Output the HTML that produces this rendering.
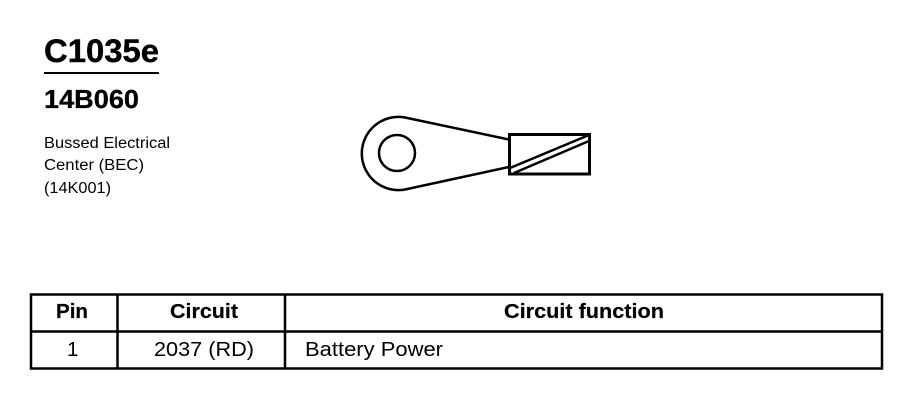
<!DOCTYPE html>
<html>
<head>
<meta charset="utf-8">
<style>
html,body{margin:0;padding:0;background:#fff;width:918px;height:416px;overflow:hidden}
svg{display:block}
text{font-family:"Liberation Sans",sans-serif;fill:#000}
</style>
</head>
<body>
<svg width="918" height="416" viewBox="0 0 918 416" xmlns="http://www.w3.org/2000/svg">
<text x="44" y="62" font-size="32" font-weight="bold" stroke="#000" stroke-width=".4" textLength="115" lengthAdjust="spacingAndGlyphs">C1035e</text>
<rect x="44" y="72" width="115" height="2" fill="#000"/>
<text x="44" y="108" font-size="25.500" font-weight="bold" stroke="#000" stroke-width=".3" textLength="95" lengthAdjust="spacingAndGlyphs">14B060</text>
<text x="44" y="148" font-size="15.500" textLength="126" lengthAdjust="spacingAndGlyphs">Bussed Electrical</text>
<text x="44" y="170" font-size="15.500" textLength="100" lengthAdjust="spacingAndGlyphs">Center (BEC)</text>
<text x="44" y="193" font-size="15.500" textLength="67" lengthAdjust="spacingAndGlyphs">(14K001)</text>

<g fill="none" stroke="#000">
<circle cx="397" cy="153" r="18" stroke-width="2.500"/>
<path d="M509 139.500 L405 117.500 A36.600 36.600 0 1 0 405 189.500 L509 167" stroke-width="2.500"/>
<rect x="509.500" y="134.500" width="80" height="39.500" stroke-width="3"/>
<path d="M510 168 L589 135" stroke-width="2.500"/>
<path d="M514 173 L589 141" stroke-width="2.500"/>
</g>

<g fill="none" stroke="#000" stroke-width="2.500">
<rect x="31" y="294.500" width="851" height="74"/>
<path d="M31 331.500H882M117.500 294.500V368.500M285 294.500V368.500"/>
</g>
<g font-size="20.500">
<text x="56" y="318" font-weight="bold" stroke="#000" stroke-width=".2" textLength="32" lengthAdjust="spacingAndGlyphs">Pin</text>
<text x="170" y="318" font-weight="bold" stroke="#000" stroke-width=".2" textLength="68" lengthAdjust="spacingAndGlyphs">Circuit</text>
<text x="504" y="318" font-weight="bold" stroke="#000" stroke-width=".2" textLength="160" lengthAdjust="spacingAndGlyphs">Circuit function</text>
<text x="67" y="356">1</text>
<text x="154" y="356" textLength="100" lengthAdjust="spacingAndGlyphs">2037 (RD)</text>
<text x="305" y="356" textLength="138" lengthAdjust="spacingAndGlyphs">Battery Power</text>
</g>
</svg>
</body>
</html>
